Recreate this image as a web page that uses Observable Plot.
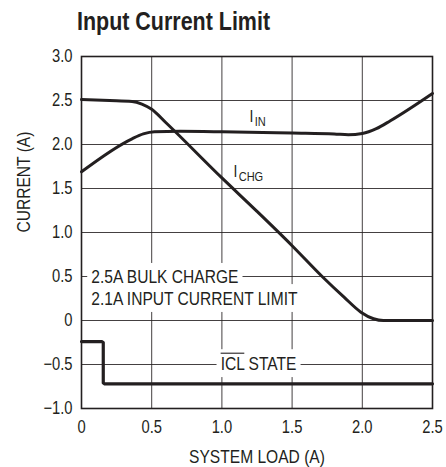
<!DOCTYPE html>
<html>
<head>
<meta charset="utf-8">
<script src="https://cdn.jsdelivr.net/npm/d3@7"></script>
<script src="https://cdn.jsdelivr.net/npm/@observablehq/plot@0.6"></script>
<style>
  html, body { margin: 0; padding: 0; background: #fff; }
  #title {
    box-sizing: border-box;
    height: 40px;
    padding: 7.5px 0 0 77px;
    font-family: "Liberation Sans", Arial, sans-serif;
    font-weight: bold;
    font-size: 26px;
    line-height: 26px;
    color: #231f20;
    white-space: nowrap;
  }
  #title span { display: inline-block; transform: scaleX(0.825); transform-origin: 0 50%; }
  #chart svg { display: block; }
</style>
</head>
<body>
<div id="title"><span>Input Current Limit</span></div>
<div id="chart"></div>
<script>
// ---- data ----
const xTicks = [0, 0.5, 1, 1.5, 2, 2.5];
const xTickLabels = ["0", "0.5", "1.0", "1.5", "2.0", "2.5"];
const yTicks = [-1, -0.5, 0, 0.5, 1, 1.5, 2, 2.5, 3];
const yTickLabels = ["\u22121.0", "\u22120.5", "0", "0.5", "1.0", "1.5", "2.0", "2.5", "3.0"];

// charge current (starts at 2.5 A)
const chgLoad = [0, 0.2, 0.36, 0.43, 0.5, 0.6, 1.0, 1.25, 1.5, 1.714, 1.87, 1.99, 2.08, 2.15, 2.3, 2.5];
const chgCurrent = [2.51, 2.50, 2.49, 2.46, 2.40, 2.25, 1.62, 1.24, 0.85, 0.50, 0.265, 0.095, 0.02, 0.0, 0.0, 0.0];

// input current
const inLoad = [0, 0.36, 0.44, 0.52, 0.7, 1.0, 1.5, 1.8, 1.9, 2.0, 2.1, 2.2, 2.5];
const inCurrent = [1.69, 2.065, 2.12, 2.145, 2.15, 2.145, 2.13, 2.12, 2.11, 2.125, 2.18, 2.27, 2.58];

// ICL state trace
const iclLoad = [0, 0.145, 0.155, 0.155, 0.165, 2.5];
const iclLevel = [-0.24, -0.24, -0.25, -0.71, -0.72, -0.72];

// labels
const xLabel = "SYSTEM LOAD (A)";
const yLabel = "CURRENT (A)";
const noteText = ["2.5A BULK CHARGE", "2.1A INPUT CURRENT LIMIT"];
const noteX = [0.07, 0.07];
const noteY = [0.49, 0.25];
const curveLabels = ["I_IN", "I_CHG"];
const curveLabelX = [1.197, 1.083];
const curveLabelY = [2.315, 1.69];
const stateText = ["ICL STATE"];
const stateX = [0.991];
const stateY = [-0.49];

const ink = "#231f20";
const fontFam = "'Liberation Sans', Arial, sans-serif";
const squeeze = 0.82;

const line = (xs, ys) => xs.map((x, i) => ({x, y: ys[i]}));
const xFmt = new Map(xTicks.map((d, i) => [d, xTickLabels[i]]));
const yFmt = new Map(yTicks.map((d, i) => [d, yTickLabels[i]]));

const chart = Plot.plot({
  width: 446,
  height: 427,
  marginTop: 16,
  marginBottom: 59,
  marginLeft: 81,
  marginRight: 14,
  style: {fontFamily: fontFam, fontSize: "18px", color: ink, background: "white"},
  x: {domain: [0, 2.5]},
  y: {domain: [-1, 3]},
  marks: [
    Plot.gridX(xTicks, {stroke: ink, strokeOpacity: 0.85, strokeWidth: 1}),
    Plot.gridY(yTicks, {stroke: ink, strokeOpacity: 0.85, strokeWidth: 1}),
    Plot.text(noteText, {x: (d, i) => noteX[i], y: (d, i) => noteY[i], text: d => d, textAnchor: "start", fontSize: 19, fill: ink}),
    Plot.text(stateText, {x: (d, i) => stateX[i], y: (d, i) => stateY[i], text: d => d, textAnchor: "start", fontSize: 19, fill: ink}),
    Plot.text(curveLabels, {x: (d, i) => curveLabelX[i], y: (d, i) => curveLabelY[i], text: d => d, textAnchor: "start", fontSize: 17, fill: ink}),
    Plot.line(line(chgLoad, chgCurrent), {x: "x", y: "y", stroke: ink, strokeWidth: 3, curve: "monotone-x"}),
    Plot.line(line(inLoad, inCurrent), {x: "x", y: "y", stroke: ink, strokeWidth: 3, curve: "monotone-x"}),
    Plot.line(line(iclLoad, iclLevel), {x: "x", y: "y", stroke: ink, strokeWidth: 3.2, curve: "linear", strokeLinejoin: "round"}),
    Plot.frame({stroke: ink, strokeWidth: 1.6}),
    Plot.axisX(xTicks, {tickSize: 0, tickPadding: 12, tickFormat: d => xFmt.get(d), fontSize: 18, label: null, fill: ink}),
    Plot.axisY(yTicks, {tickSize: 0, tickPadding: 9, tickFormat: d => yFmt.get(d), fontSize: 18, label: null, fill: ink}),
    Plot.text([xLabel], {frameAnchor: "bottom", lineAnchor: "bottom", dy: 54, text: d => d, fontSize: 19, fill: ink}),
    Plot.text([yLabel], {frameAnchor: "left", rotate: -90, dx: -57.7, text: d => d, fontSize: 19, fill: ink})
  ]
});

document.getElementById("chart").append(chart);

const svg = d3.select(chart);

// condensed lettering: squeeze every text horizontally about its anchor
svg.selectAll("text").each(function() {
  let t = this.getAttribute("transform");
  if (!t) {
    const x = +(this.getAttribute("x") || 0), y = +(this.getAttribute("y") || 0);
    this.removeAttribute("x"); this.removeAttribute("y");
    t = `translate(${x},${y})`;
  }
  this.setAttribute("transform", `${t} scale(${squeeze},1)`);
});

// subscripts on curve labels
svg.selectAll("text").filter(function() { return curveLabels.includes(this.textContent); }).each(function() {
  const [main, sub] = this.textContent.split("_");
  const t = d3.select(this);
  t.text(null);
  t.append("tspan").text(main);
  t.append("tspan").attr("dy", 3.5).attr("font-size", "13.5px").attr("dx", 1.5).text(sub);
});

// white boxes behind annotation text (masks grid lines)
const masked = noteText.concat(stateText);
const maskNodes = svg.selectAll("text").filter(function() { return masked.includes(this.textContent); }).nodes();
maskNodes.forEach(node => {
  const b = node.getBBox();
  const px = 5, py = 3;
  d3.select(node.parentNode).insert("rect", ":first-child")
    .attr("x", b.x - px).attr("y", b.y - py)
    .attr("width", b.width + 2 * px).attr("height", b.height + 2 * py)
    .attr("transform", node.getAttribute("transform"))
    .attr("fill", "white").attr("stroke", "none");
});

// overline on "ICL"
svg.selectAll("text").filter(function() { return this.textContent === stateText[0]; }).each(function() {
  const b = this.getBBox();
  const w = this.getSubStringLength(0, 3);
  d3.select(this.parentNode).append("line")
    .attr("x1", b.x).attr("x2", b.x + w)
    .attr("y1", b.y + 1).attr("y2", b.y + 1)
    .attr("transform", this.getAttribute("transform"))
    .attr("stroke", ink).attr("stroke-width", 1.1);
});
</script>
</body>
</html>
